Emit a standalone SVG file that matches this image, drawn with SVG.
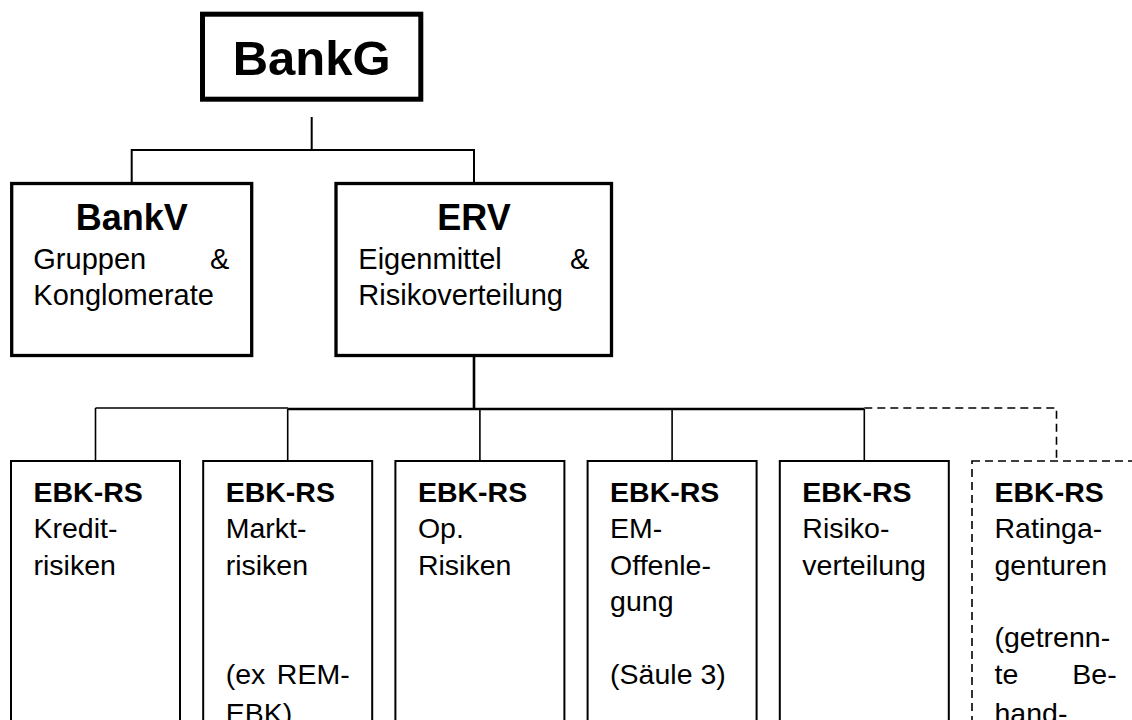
<svg xmlns="http://www.w3.org/2000/svg" width="1132" height="720" viewBox="0 0 1132 720">
<style>
text{font-family:"Liberation Sans",Arial,sans-serif;fill:#000}
.h1{font-size:49px;font-weight:bold;text-anchor:middle}
.h2{font-size:36px;font-weight:bold;text-anchor:middle}
.t{font-size:29px}
.b{font-size:28.5px;font-weight:bold}
.s{font-size:28.5px}
.e{text-anchor:end}
.box{fill:#fff;stroke:#000}
.ln{fill:none;stroke:#000}
</style>
<rect width="1132" height="720" fill="#fff"/>
<g id="connectors">
<path class="ln" stroke-width="2" d="M311.7 117V150M131.7 150H474M131.7 149V183M474 149V183"/>
<path class="ln" stroke-width="2.6" d="M474 357V409M287.7 409H864.3"/>
<path class="ln" stroke-width="1.6" d="M95.5 408H288M95.5 408V461M287.7 409V461M479.9 409V461M672.1 409V461M864.3 409V461"/>
<path class="ln" stroke-width="1.6" stroke-dasharray="8,5" d="M864.3 408H1056.5V461"/>
</g>
<g id="bankg">
<rect class="box" x="202.5" y="14.2" width="218.3" height="85" stroke-width="5"/>
<text class="h1" x="311.7" y="75">BankG</text>
</g>
<g id="bankv">
<rect class="box" x="11.7" y="183.5" width="240" height="172" stroke-width="3.3"/>
<text class="h2" x="131.7" y="230">BankV</text>
<text class="t" x="33.3" y="269.3">Gruppen</text>
<text class="t e" x="229.3" y="269.3">&amp;</text>
<text class="t" x="33.3" y="305">Konglomerate</text>
</g>
<g id="erv">
<rect class="box" x="336" y="183.5" width="275.5" height="172" stroke-width="3.3"/>
<text class="h2" x="474" y="230">ERV</text>
<text class="t" x="358.3" y="269.3">Eigenmittel</text>
<text class="t e" x="589.3" y="269.3">&amp;</text>
<text class="t" x="358.3" y="305">Risikoverteilung</text>
</g>
<g id="kredit">
<rect class="box" x="11" y="461" width="169" height="320" stroke-width="2"/>
<text class="b" x="33.5" y="502">EBK-RS</text>
<text class="s" x="33.5" y="538.3">Kredit-</text>
<text class="s" x="33.5" y="574.6">risiken</text>
</g>
<g id="markt">
<rect class="box" x="203.2" y="461" width="169" height="320" stroke-width="2"/>
<text class="b" x="225.7" y="502">EBK-RS</text>
<text class="s" x="225.7" y="538.3">Markt-</text>
<text class="s" x="225.7" y="574.6">risiken</text>
<text class="s" x="225.7" y="683.5">(ex</text>
<text class="s e" x="349.7" y="683.5">REM-</text>
<text class="s" x="225.7" y="722.5">EBK)</text>
</g>
<g id="op">
<rect class="box" x="395.4" y="461" width="169" height="320" stroke-width="2"/>
<text class="b" x="417.9" y="502">EBK-RS</text>
<text class="s" x="417.9" y="538.3">Op.</text>
<text class="s" x="417.9" y="574.6">Risiken</text>
</g>
<g id="offenlegung">
<rect class="box" x="587.6" y="461" width="169" height="320" stroke-width="2"/>
<text class="b" x="610.1" y="502">EBK-RS</text>
<text class="s" x="610.1" y="538.3">EM-</text>
<text class="s" x="610.1" y="574.6">Offenle-</text>
<text class="s" x="610.1" y="610.9">gung</text>
<text class="s" x="610.1" y="683.5">(Säule 3)</text>
</g>
<g id="risikoverteilung">
<rect class="box" x="779.8" y="461" width="169" height="320" stroke-width="2"/>
<text class="b" x="802.3" y="502">EBK-RS</text>
<text class="s" x="802.3" y="538.3">Risiko-</text>
<text class="s" x="802.3" y="574.6">verteilung</text>
</g>
<g id="rating">
<rect class="box" x="972" y="461" width="169" height="320" stroke-width="1.6" stroke-dasharray="8,5"/>
<text class="b" x="994.5" y="502">EBK-RS</text>
<text class="s" x="994.5" y="538.3">Ratinga-</text>
<text class="s" x="994.5" y="574.6">genturen</text>
<text class="s" x="994.5" y="647.2">(getrenn-</text>
<text class="s" x="994.5" y="683.5">te</text>
<text class="s e" x="1116.7" y="683.5">Be-</text>
<text class="s" x="994.5" y="722.5">hand-</text>
</g>
</svg>
